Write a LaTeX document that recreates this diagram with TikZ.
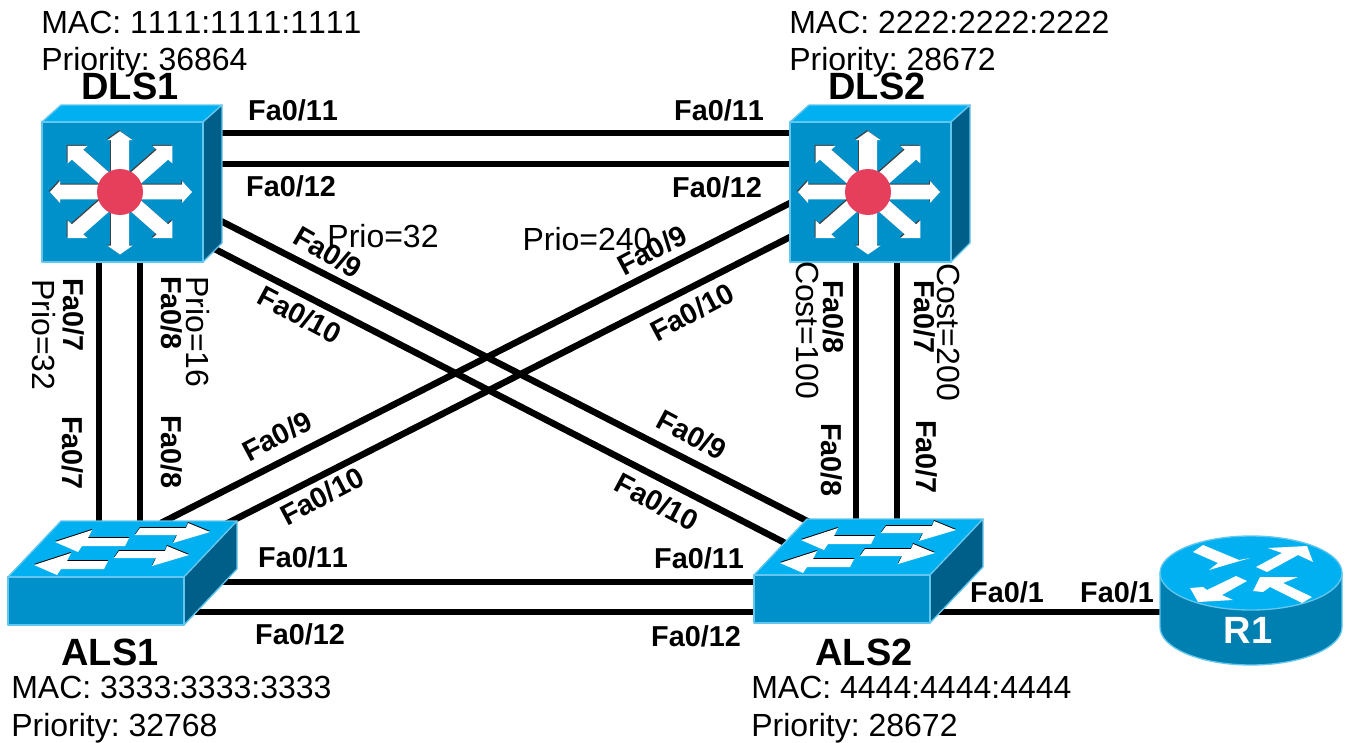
\documentclass[tikz,border=0pt]{standalone}
\usepackage{xcolor}
\usepackage{fontspec}
\setmainfont[Kerning=Off]{Liberation Sans}
\usepackage{tikz}
\usetikzlibrary{calc}
\definecolor{front}{HTML}{0091CB}
\definecolor{topface}{HTML}{00B0F0}
\definecolor{sideface}{HTML}{005F88}
\definecolor{rim}{HTML}{62C6EE}
\definecolor{rtrside}{HTML}{0080B0}
\definecolor{hub}{HTML}{E63F5C}
\newcommand{\lblsize}[1]{\fontsize{#1}{#1}\selectfont}
\frenchspacing
\tikzset{
  device/.style ={inner sep=0pt,outer sep=0pt},
  link/.style   ={line width=4.9pt,draw=black},
  portlbl/.style={inner sep=0pt,font=\lblsize{21.6}\bfseries},
  note/.style   ={inner sep=0pt,font=\lblsize{24}},
  info/.style   ={note,anchor=west},
  devlbl/.style ={inner sep=0pt,font=\lblsize{28.5}\bfseries},
  faceedge/.style={draw=rim,line width=1pt,line join=round},
  mlsw/.pic={
    \begin{scope}[shift={(-90,-61.5)}]
      \filldraw[faceedge,fill=topface] (0,0) -- (19,-17) -- (180,-17) -- (161,0) -- cycle;
      \filldraw[faceedge,fill=sideface] (161,0) -- (180,-17) -- (180,121) -- (161,140) -- cycle;
      \filldraw[faceedge,fill=front] (0,0) rectangle (161,140);
      \foreach \ang/\len/\sw/\hw/\hl in {0/72/8.5/12.5/10,180/70/8.5/12.5/10,90/69/9/12.5/10,270/71/9/12.5/10,
          45/74/8/14/14,135/74/8/14/14,225/74/8/14/14,315/74/8/14/14}{
        \fill[black!75,shift={(77,69)},yscale=.88,rotate=\ang]
          (0,-\sw) -- ({\len-\hl},-\sw) -- ({\len-\hl},-\hw) -- (\len,0) -- ({\len-\hl},\hw)
          -- ({\len-\hl},\sw) -- (0,\sw) -- cycle;
        \fill[white,shift={(78,70)},yscale=.88,rotate=\ang]
          (0,-\sw) -- ({\len-\hl},-\sw) -- ({\len-\hl},-\hw) -- (\len,0) -- ({\len-\hl},\hw)
          -- ({\len-\hl},\sw) -- (0,\sw) -- cycle;
      }
      \fill[hub] (78,70) circle (23);
    \end{scope}
  },
  l2sw/.pic={
    \begin{scope}[shift={(-114.5,4)}]
      \filldraw[faceedge,fill=topface] (0,0) -- (53,-56) -- (229,-56) -- (176,0) -- cycle;
      \filldraw[faceedge,fill=sideface] (176,0) -- (229,-56) -- (229,-8) -- (176,48) -- cycle;
      \filldraw[faceedge,fill=front] (0,0) rectangle (176,48);
      \foreach \dx/\dy in {0/0,-21/23}{
        \fill[black,shift={(\dx,\dy-1)}] (47,-35) -- (84,-47) -- (80,-39) -- (121,-39) -- (117,-31) -- (74,-31) -- (70,-25) -- cycle;
        \fill[white,shift={(\dx,\dy)}] (47,-35) -- (84,-47) -- (80,-39) -- (121,-39) -- (117,-31) -- (74,-31) -- (70,-25) -- cycle;
        \fill[black,shift={(\dx,\dy-1)}] (202,-45) -- (180,-54) -- (178,-49) -- (132,-49) -- (127,-42) -- (169,-42) -- (165,-34) -- cycle;
        \fill[white,shift={(\dx,\dy)}] (202,-45) -- (180,-54) -- (178,-49) -- (132,-49) -- (127,-42) -- (169,-42) -- (165,-34) -- cycle;
      }
    \end{scope}
  },
  rtr/.pic={
    \begin{scope}[shift={(0,-27.5)}]
      \filldraw[draw=rim,line width=1pt,fill=rtrside] (-91,0) -- (-91,54) arc[start angle=180,end angle=0,x radius=91,y radius=38] -- (91,0) -- cycle;
      \filldraw[draw=rim,line width=1pt,fill=topface] (0,0) ellipse[x radius=91,y radius=37];
      \fill[white] (-48,-28) -- (-58,-21) -- (-33,-10) -- (-42,-3) -- (-1,-15) -- (-12,-13) -- cycle;
      \fill[white] (5,-6) -- (16,-1) -- (47,-18) -- (62,-11) -- (56,-27) -- (17,-25) -- (31,-20) -- cycle;
      \fill[white] (-61,15) -- (-53,29) -- (-18,27) -- (-29,22) -- (-4,8) -- (-15,3) -- (-44,17) -- (-48,14) -- cycle;
      \fill[white] (2,18) -- (9,4) -- (47,4) -- (32,10) -- (61,24) -- (51,30) -- (19,14) -- (12,19) -- cycle;
    \end{scope}
  }
}
\begin{document}
\begin{tikzpicture}[x=0.75pt,y=-0.75pt]
  \useasboundingbox (0,0) rectangle (1348,742);
  \node[device,minimum width=135pt,minimum height=117.75pt] (DLS1) at (132,183.5) {};
  \node[device,minimum width=135pt,minimum height=117.75pt] (DLS2) at (880,183.5) {};
  \node[device,minimum width=171.75pt,minimum height=78pt] (ALS1) at (122.5,573) {};
  \node[device,minimum width=171.75pt,minimum height=78pt] (ALS2) at (868.5,571) {};
  \node[device,minimum width=136.5pt,minimum height=96.75pt] (R1) at (1251,600.5) {};

  \draw[link] ($(DLS1.east)+(-5,-50.5)$) -- ($(DLS2.west)+(5,-50.5)$);
  \draw[link] ($(DLS1.east)+(-5,-19.5)$) -- ($(DLS2.west)+(5,-19.5)$);
  \draw[link] ($(DLS1.south)+(-33,-5)$) -- ($(ALS1.north)+(-23.5,5)$);
  \draw[link] ($(DLS1.south)+(8,-5)$) -- ($(ALS1.north)+(17.5,5)$);
  \draw[link] ($(DLS2.south)+(-24,-5)$) -- ($(ALS2.north)+(-12.5,5)$);
  \draw[link] ($(DLS2.south)+(17,-5)$) -- ($(ALS2.north)+(28.5,5)$);
  \draw[link] ($(DLS1.east)+(-5,35.5)$) -- ($(ALS2.north)+(-57.5,4)$);
  \draw[link] ($(DLS1.east)+(-17,60.5)$) -- ($(ALS2.north)+(-79.5,26)$);
  \draw[link] ($(DLS2.west)+(5,17)$) -- ($(ALS1.north)+(38.5,2)$);
  \draw[link] ($(DLS2.west)+(5,51)$) -- ($(ALS1.north)+(103.5,3)$);
  \draw[link] ($(ALS1.east)+(-17,9)$) -- ($(ALS2.west)+(5,11)$);
  \draw[link] ($(ALS1.east)+(-42,39)$) -- ($(ALS2.west)+(5,41)$);
  \draw[link] ($(ALS2.east)+(-45,41)$) -- ($(R1.west)+(5,11.5)$);

  \pic at (DLS1) {mlsw};
  \pic at (DLS2) {mlsw};
  \pic at (ALS1) {l2sw};
  \pic at (ALS2) {l2sw};
  \pic at (R1) {rtr};

  \node[info] (mac1) at (41,22) {MAC: 1111:1111:1111};
  \node[info] (pri1) at (41,62) {Priority: 36864};
  \node[info] (mac2) at (789,22) {MAC: 2222:2222:2222};
  \node[info] (pri2) at (789,62) {Priority: 28672};
  \node[info] (mac3) at (11,687) {MAC: 3333:3333:3333};
  \node[info] (pri3) at (11,728) {Priority: 32768};
  \node[info] (mac4) at (751,687) {MAC: 4444:4444:4444};
  \node[info] (pri4) at (751,728) {Priority: 28672};

  \node[devlbl] (nameD1) at (130,86) {DLS1};
  \node[devlbl] (nameD2) at (877,86) {DLS2};
  \node[devlbl] (nameA1) at (110,652) {ALS1};
  \node[devlbl] (nameA2) at (864,652) {ALS2};
  \node[devlbl,text=white] (nameR1) at (1248,630) {R1};

  \node[portlbl] (d1f11) at (293,110) {Fa0/11};
  \node[portlbl] (d2f11) at (719,110) {Fa0/11};
  \node[portlbl] (d1f12) at (291,186) {Fa0/12};
  \node[portlbl] (d2f12) at (717,187) {Fa0/12};
  \node[portlbl,rotate=-90] (d1f7) at (74,315) {Fa0/7};
  \node[portlbl,rotate=-90] (d1f8) at (172,313) {Fa0/8};
  \node[portlbl,rotate=-90] (a1f7) at (73,453) {Fa0/7};
  \node[portlbl,rotate=-90] (a1f8) at (172,452) {Fa0/8};
  \node[portlbl,rotate=-90] (d2f8) at (834,317) {Fa0/8};
  \node[portlbl,rotate=-90] (d2f7) at (925,317) {Fa0/7};
  \node[portlbl,rotate=-90] (a2f8) at (832,460) {Fa0/8};
  \node[portlbl,rotate=-90] (a2f7) at (927,457) {Fa0/7};
  \node[portlbl,rotate=-30] (d1f9) at (328,252) {Fa0/9};
  \node[portlbl,rotate=-28] (d1f10) at (300,315) {Fa0/10};
  \node[portlbl,rotate=28] (d2f9) at (652,250) {Fa0/9};
  \node[portlbl,rotate=28] (d2f10) at (692,312) {Fa0/10};
  \node[portlbl,rotate=-28] (a2f9) at (692,435) {Fa0/9};
  \node[portlbl,rotate=-28] (a2f10) at (657,502) {Fa0/10};
  \node[portlbl,rotate=28] (a1f9) at (277,436) {Fa0/9};
  \node[portlbl,rotate=28] (a1f10) at (322,496) {Fa0/10};
  \node[portlbl] (a1f11) at (303,557) {Fa0/11};
  \node[portlbl] (a2f11) at (699,558) {Fa0/11};
  \node[portlbl] (a1f12) at (300,634) {Fa0/12};
  \node[portlbl] (a2f12) at (696,636) {Fa0/12};
  \node[portlbl] (a2f1) at (1007,592) {Fa0/1};
  \node[portlbl] (r1f1) at (1117,592) {Fa0/1};

  \node[note] (prioA) at (383,236) {Prio=32};
  \node[note] (prioB) at (587,239) {Prio=240};
  \node[note,rotate=-90] (prioC) at (44,335) {Prio=32};
  \node[note,rotate=-90] (prioD) at (198,332) {Prio=16};
  \node[note,rotate=-90] (costA) at (808,330) {Cost=100};
  \node[note,rotate=-90] (costB) at (949,332) {Cost=200};
\end{tikzpicture}
\end{document}
